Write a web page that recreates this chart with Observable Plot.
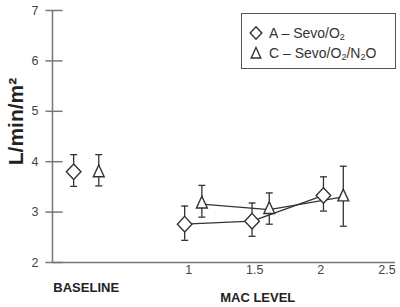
<!DOCTYPE html>
<html>
<head>
<meta charset="utf-8">
<script src="https://cdn.jsdelivr.net/npm/d3@7"></script>
<script src="https://cdn.jsdelivr.net/npm/@observablehq/plot@0.6"></script>
<style>
  html, body { margin: 0; padding: 0; background: #fff; }
  #chart { position: relative; width: 400px; height: 307px; font-family: "Liberation Sans", Arial, sans-serif; }
  .legend { position: absolute; left: 241px; top: 13px; width: 155px; height: 56px; box-sizing: border-box;
            border: 1.5px solid #555; background: #fff; }
  .legend .row { position: absolute; left: 7px; height: 16px; line-height: 16px; font-size: 14px; color: #333; white-space: nowrap; }
  .legend svg { vertical-align: middle; margin-right: 6px; position: relative; top: -1px; }
  .legend sub { font-size: 9px; vertical-align: -2px; line-height: 0; }
</style>
</head>
<body>
<div id="chart"></div>
<script>
// Cardiac index (L/min/m²) at baseline and at increasing MAC levels, mean with error bars.
const groups = ["A", "C"];
const groupNames = ["A – Sevo/O₂", "C – Sevo/O₂/N₂O"];
const baselineX = [0.13, 0.32];           // horizontal slots used for the baseline readings
const macA = [0.97, 1.48, 2.02];          // MAC level at which group A was measured
const macC = [1.10, 1.61, 2.17];          // MAC level at which group C was measured
const meanA = [3.80, 2.76, 2.82, 3.33];   // baseline, then one per MAC level
const lowA  = [3.51, 2.44, 2.52, 3.02];
const highA = [4.14, 3.12, 3.18, 3.70];
const meanC = [3.78, 3.16, 3.05, 3.30];
const lowC  = [3.52, 2.90, 2.76, 2.72];
const highC = [4.14, 3.53, 3.38, 3.91];
const yTicks = [2, 3, 4, 5, 6, 7];
const xTicks = [1, 1.5, 2, 2.5];

function rowsFor(g, i, mac, mean, low, high) {
  const xs = [baselineX[i], ...mac];
  return xs.map((x, k) => ({group: g, phase: k === 0 ? "baseline" : "mac", x, mean: mean[k], low: low[k], high: high[k]}));
}
const rows = [
  ...rowsFor("A", 0, macA, meanA, lowA, highA),
  ...rowsFor("C", 1, macC, meanC, lowC, highC)
];
const macRows = rows.filter(d => d.phase === "mac");

// Marker shapes, scaled by the dot radius
const diamond = {draw(ctx, size) {
  const r = Math.sqrt(size / Math.PI);
  ctx.moveTo(0, -r * 1.07); ctx.lineTo(r, 0); ctx.lineTo(0, r * 1.07); ctx.lineTo(-r, 0); ctx.closePath();
}};
const triangle = {draw(ctx, size) {
  const r = Math.sqrt(size / Math.PI);
  ctx.moveTo(0, -r * 1.3); ctx.lineTo(r * 0.9, r * 0.65); ctx.lineTo(-r * 0.9, r * 0.65); ctx.closePath();
}};
const cap = {draw(ctx, size) {
  const r = Math.sqrt(size / Math.PI);
  ctx.moveTo(-r, 0); ctx.lineTo(r, 0);
}};
// y-axis tick that crosses the axis line
const crossTick = {draw(ctx, size) {
  const r = Math.sqrt(size / Math.PI);
  ctx.moveTo(-r, 0); ctx.lineTo(r * 1.43, 0);
}};

const ink = "#333";
const axisInk = "#777";
const xDomain = [-0.03, 2.565];
const fmt = d => String(d);

const plot = Plot.plot({
  width: 400,
  height: 307,
  marginTop: 10,
  marginLeft: 52,
  marginRight: 5,
  marginBottom: 45,
  style: {fontFamily: "Liberation Sans, Arial, sans-serif", background: "transparent", overflow: "visible"},
  x: {domain: xDomain},
  y: {domain: [2, 7]},
  marks: [
    Plot.axisY({ticks: yTicks, tickSize: 0, tickPadding: 14, fontSize: 12.5, color: "#444", label: null, tickFormat: fmt}),
    Plot.axisX({ticks: xTicks, tickSize: 0, tickPadding: 3, fontSize: 12.5, color: "#444", label: null, tickFormat: fmt}),
    Plot.ruleX([xDomain[0]], {stroke: axisInk, strokeWidth: 1.5}),
    Plot.ruleY([2], {stroke: axisInk, strokeWidth: 1.5}),
    Plot.dotY(yTicks, {frameAnchor: "left", symbol: crossTick, r: 7, stroke: axisInk, strokeWidth: 1.5, fill: "none"}),
    // error bars
    Plot.ruleX(rows, {x: "x", y1: "low", y2: "high", stroke: ink, strokeWidth: 1.3}),
    Plot.dot(rows, {x: "x", y: "high", symbol: cap, r: 3.5, stroke: ink, strokeWidth: 1.3}),
    Plot.dot(rows, {x: "x", y: "low", symbol: cap, r: 3.5, stroke: ink, strokeWidth: 1.3}),
    // connecting lines across MAC levels
    Plot.line(macRows, {x: "x", y: "mean", z: "group", stroke: ink, strokeWidth: 1.3}),
    // markers
    Plot.dot(rows.filter(d => d.group === "A"), {x: "x", y: "mean", symbol: diamond, r: 7.3, fill: "white", stroke: ink, strokeWidth: 1.4}),
    Plot.dot(rows.filter(d => d.group === "C"), {x: "x", y: "mean", symbol: triangle, r: 6, fill: "white", stroke: ink, strokeWidth: 1.4}),
    // axis titles
    Plot.text(["BASELINE"], {x: d3.mean(baselineX), y: 2, dy: 25, fontSize: 13, fontWeight: "bold", fill: "#222", textAnchor: "middle"}),
    Plot.text(["MAC LEVEL"], {x: 1.5, y: 2, dx: 3, dy: 35, fontSize: 13, fontWeight: "bold", fill: "#222", textAnchor: "middle"}),
    Plot.text(["L/min/m²"], {frameAnchor: "left", textAnchor: "middle", rotate: -90, dx: -36, dy: -15, fontSize: 21, fontWeight: "bold", fill: "#222"})
  ]
});

const chart = document.getElementById("chart");
chart.appendChild(plot);

// Legend box
const legend = document.createElement("div");
legend.className = "legend";
const shapes = [
  '<svg width="14" height="14" viewBox="-7 -7 14 14"><path d="M0,-6.2L5.8,0L0,6.2L-5.8,0Z" fill="white" stroke="#333" stroke-width="1.4"/></svg>',
  '<svg width="14" height="14" viewBox="-7 -7 14 14"><path d="M0,-5.5L4.8,5L-4.8,5Z" fill="white" stroke="#333" stroke-width="1.4"/></svg>'
];
const labelsHtml = ["A – Sevo/O<sub>2</sub>", "C – Sevo/O<sub>2</sub>/N<sub>2</sub>O"];
groups.forEach((g, i) => {
  const row = document.createElement("div");
  row.className = "row";
  row.style.top = (i === 0 ? 11 : 31) + "px";
  row.title = groupNames[i];
  row.innerHTML = shapes[i] + labelsHtml[i];
  legend.appendChild(row);
});
chart.appendChild(legend);
</script>
</body>
</html>
